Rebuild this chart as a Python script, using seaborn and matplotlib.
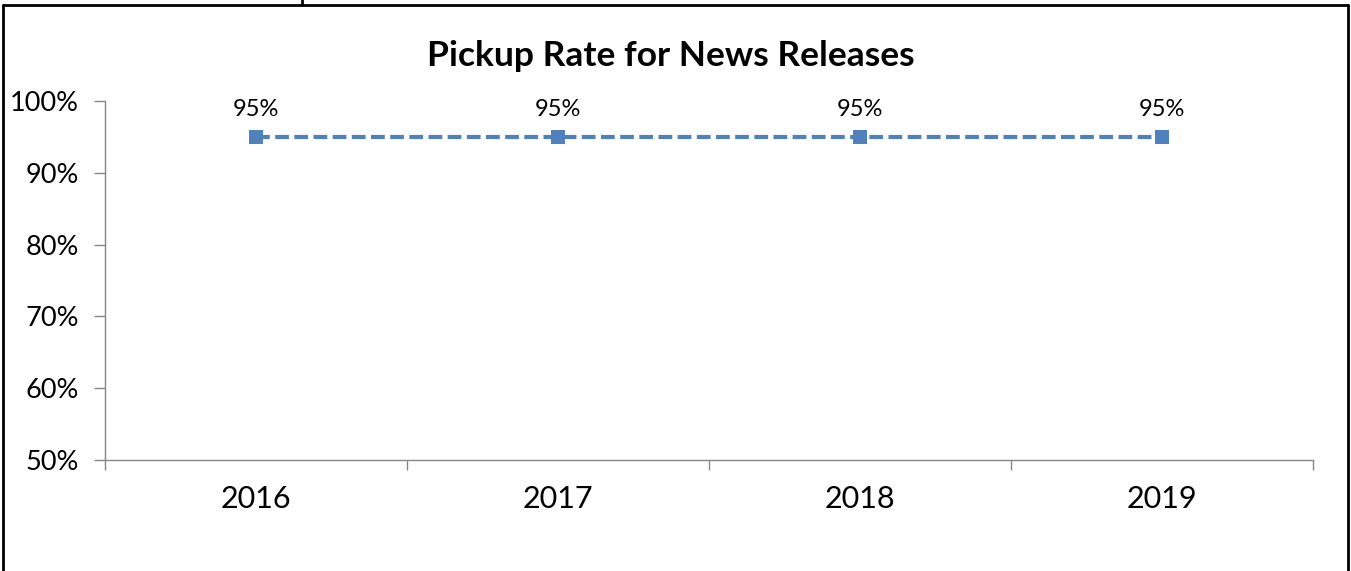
import matplotlib
matplotlib.use("Agg")
import matplotlib.pyplot as plt
from matplotlib.lines import Line2D
from matplotlib.ticker import FuncFormatter
import seaborn as sns
import pandas as pd

years = ["2016", "2017", "2018", "2019"]
pickup_rate = [0.95, 0.95, 0.95, 0.95]
y_ticks = [0.5, 0.6, 0.7, 0.8, 0.9, 1.0]

sns.set_style("white")
plt.rcParams['font.family'] = ['Lato', 'DejaVu Sans']

W, H = 1351, 571
fig = plt.figure(figsize=(W / 100, H / 100), dpi=100)
ax = fig.add_axes([105 / W, (H - 460) / H, (1313 - 105) / W, (460 - 101) / H])

df = pd.DataFrame({"year": years, "rate": pickup_rate})
sns.lineplot(data=df, x="year", y="rate", ax=ax, color="#4F81BD",
             linewidth=3, linestyle=(0, (3.3, 1.3)), marker="s",
             markersize=9.5, markeredgewidth=0, sort=False)

for i, v in enumerate(pickup_rate):
    ax.annotate(f"{v:.0%}", (i, v), xytext=(0, 12), textcoords="offset points",
                ha="center", va="bottom", fontsize=17, color="black")

ax.set_xlim(-0.5, len(years) - 0.5)
ax.set_ylim(0.5, 1.0)
ax.set_yticks(y_ticks)
ax.yaxis.set_major_formatter(FuncFormatter(lambda v, p: f"{v:.0%}"))

ax.set_xticks([i - 0.5 for i in range(len(years) + 1)])
ax.set_xticklabels([])
ax.set_xticks(range(len(years)), minor=True)
ax.set_xticklabels(years, minor=True)
ax.tick_params(axis="x", which="major", length=7, width=1, color="#868686", direction="out", bottom=True)
ax.tick_params(axis="x", which="minor", length=0, labelsize=22, pad=18, bottom=True, labelcolor="black")
ax.tick_params(axis="y", length=8, width=1, color="#868686", direction="out", labelsize=19.5, pad=11, left=True, labelcolor="black")

for s in ["top", "right"]:
    ax.spines[s].set_visible(False)
for s in ["left", "bottom"]:
    ax.spines[s].set_color("#868686")
    ax.spines[s].set_linewidth(1)
ax.set_xlabel("")
ax.set_ylabel("")
ax.grid(False)

fig.text(671 / W, 1 - 56 / H, "Pickup Rate for News Releases", ha="center", va="center",
         fontsize=25.5, fontweight="bold", color="black")

# surrounding frame
lw = 2
fig.add_artist(Line2D([3 / W, 1348 / W], [1 - 4.5 / H, 1 - 4.5 / H], color="black", lw=lw, transform=fig.transFigure))
fig.add_artist(Line2D([3 / W, 3 / W], [0, 1 - 4.5 / H], color="black", lw=lw, transform=fig.transFigure))
fig.add_artist(Line2D([1348 / W, 1348 / W], [0, 1 - 4.5 / H], color="black", lw=lw, transform=fig.transFigure))
fig.add_artist(Line2D([302 / W, 302 / W], [1 - 5 / H, 1], color="black", lw=lw, transform=fig.transFigure))

fig.savefig("out.png", dpi=100)
